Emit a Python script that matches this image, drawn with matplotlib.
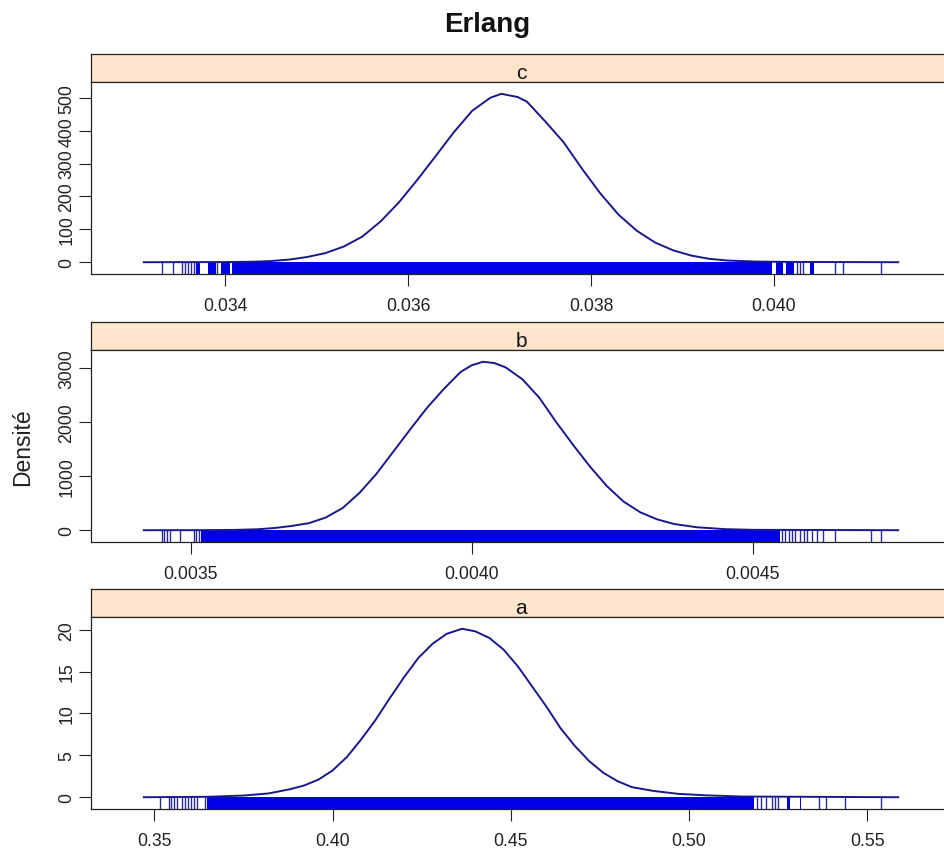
# -*- coding: utf-8 -*-
'''
Densitats a posteriori del model Erlang (paràmetres a, b i c),
una finestra per paràmetre amb el rug de les mostres a sota.
'''

import matplotlib
matplotlib.use('Agg')
import matplotlib.pyplot as plt

plt.rcParams['font.family'] = ['Liberation Sans', 'DejaVu Sans']

# paràmetre c: corba de densitat
c_x = [0.03311, 0.0340, 0.0343, 0.0345, 0.0347, 0.0349, 0.0351, 0.0353, 0.0355, 0.0357,
       0.0359, 0.0361, 0.0363, 0.0365, 0.0367, 0.0369, 0.03702, 0.0372, 0.0373, 0.0375,
       0.0377, 0.0379, 0.0381, 0.0383, 0.0385, 0.0387, 0.0389, 0.0391, 0.0393, 0.0395,
       0.0398, 0.0402, 0.04136]
c_y = [0, 0.5, 1.5, 3.5, 8, 16, 28, 48, 78, 124,
       182, 250, 322, 395, 460, 500, 512, 502, 488, 428,
       365, 285, 210, 145, 96, 60, 36, 20, 10, 5,
       2, 0.8, 0]
# rug de c: trams densos (inici, fi) i mostres soltes
c_rug_ini = [0.033680, 0.033808, 0.033953, 0.034070, 0.040020, 0.040128, 0.040400]
c_rug_fi = [0.033723, 0.033898, 0.034055, 0.039982, 0.040100, 0.040226, 0.040444]
c_rug = [0.033308, 0.033425, 0.033527, 0.033563, 0.033596, 0.033625, 0.033655, 0.033909,
         0.040248, 0.040284, 0.040317, 0.040667, 0.040758, 0.041177]
c_xticks = [0.034, 0.036, 0.038, 0.040]
c_xlabels = ['0.034', '0.036', '0.038', '0.040']
c_yticks = [0, 100, 200, 300, 400, 500]

# paràmetre b
b_x = [0.003416, 0.00352, 0.00358, 0.00362, 0.00365, 0.00368, 0.00371, 0.00374, 0.00377,
       0.00380, 0.00383, 0.00386, 0.00389, 0.00392, 0.00395, 0.00398, 0.00400, 0.00402,
       0.00404, 0.00406, 0.00409, 0.00412, 0.00415, 0.00418, 0.00421, 0.00424, 0.00427,
       0.00430, 0.00433, 0.00436, 0.00440, 0.00445, 0.00450, 0.004759]
b_y = [0, 1, 6, 18, 42, 80, 130, 235, 410,
       690, 1040, 1450, 1860, 2260, 2610, 2925, 3050, 3113,
       3090, 3010, 2790, 2450, 2000, 1580, 1180, 820, 530,
       330, 200, 115, 55, 20, 7, 0]
b_rug_ini = [0.003517]
b_rug_fi = [0.004549]
b_rug = [0.003448, 0.003452, 0.003457, 0.003463, 0.003480, 0.003505, 0.003509, 0.003514,
         0.004552, 0.004558, 0.004564, 0.004570, 0.004576, 0.004585, 0.004591, 0.004597,
         0.004606, 0.004615, 0.004626, 0.004646, 0.004711, 0.004729]
b_xticks = [0.0035, 0.0040, 0.0045]
b_xlabels = ['0.0035', '0.0040', '0.0045']
b_yticks = [0, 1000, 2000, 3000]

# paràmetre a
a_x = [0.347, 0.365, 0.375, 0.382, 0.388, 0.392, 0.396, 0.400, 0.404, 0.408, 0.412, 0.416,
       0.420, 0.424, 0.428, 0.432, 0.4363, 0.440, 0.444, 0.448, 0.452, 0.456, 0.460, 0.464,
       0.468, 0.472, 0.476, 0.480, 0.484, 0.490, 0.497, 0.505, 0.515, 0.5587]
a_y = [0, 0.05, 0.2, 0.45, 0.95, 1.4, 2.1, 3.2, 4.8, 6.9, 9.2, 11.8,
       14.3, 16.6, 18.3, 19.5, 20.1, 19.8, 19.0, 17.6, 15.6, 13.2, 10.8, 8.2,
       6.1, 4.3, 2.9, 1.9, 1.2, 0.75, 0.4, 0.22, 0.08, 0]
a_rug_ini = [0.36479, 0.52740, 0.53108]
a_rug_fi = [0.51818, 0.52820, 0.53156]
a_rug = [0.35168, 0.35401, 0.35469, 0.35542, 0.35637, 0.35777, 0.35842, 0.35934, 0.36030,
         0.36103, 0.36198, 0.36431, 0.51913, 0.52025, 0.52174, 0.52334, 0.52399, 0.52491,
         0.53661, 0.53850, 0.54371, 0.55401]
a_xticks = [0.35, 0.40, 0.45, 0.50, 0.55]
a_xlabels = ['0.35', '0.40', '0.45', '0.50', '0.55']
a_yticks = [0, 5, 10, 15, 20]

W, H = 944, 854
fig = plt.figure(figsize=(W / 100, H / 100), dpi=100)

def caixa(x0, y0, x1, y1):
	# rectangle en píxels, amb l'origen a dalt a l'esquerra
	return fig.add_axes([x0 / W, 1 - y1 / H, (x1 - x0) / W, (y1 - y0) / H])

vora = '#222222'
panells = [
	('c', c_x, c_y, c_rug_ini, c_rug_fi, c_rug, c_xticks, c_xlabels, c_yticks, 55),
	('b', b_x, b_y, b_rug_ini, b_rug_fi, b_rug, b_xticks, b_xlabels, b_yticks, 323),
	('a', a_x, a_y, a_rug_ini, a_rug_fi, a_rug, a_xticks, a_xlabels, a_yticks, 590),
]

for nom, xs, ys, ini, fi, rug, xt, xtl, yt, dalt in panells:
	# franja amb el nom del paràmetre
	strip = caixa(91, dalt, 951, dalt + 28)
	strip.set_facecolor('#ffe5cc')
	strip.set_xticks([])
	strip.set_yticks([])
	for s in strip.spines.values():
		s.set_color(vora)
		s.set_linewidth(0.9)
	strip.text(0.5, 0.14, nom, ha='center', va='baseline', fontsize=15,
	           color='#111111', transform=strip.transAxes)

	ax = caixa(91, dalt + 28, 951, dalt + 220)
	ymax = max(ys)
	y0 = -0.07 * ymax
	marge = 0.07 * (max(xs) - min(xs))

	# rug: trams plens i mostres soltes
	for p, q in zip(ini, fi):
		ax.fill_between([p, q], y0, 0, color='#0000e6', lw=0)
	ax.vlines(rug, y0, 0, color='#2a2aa0', lw=1)
	ax.plot(xs, ys, color='#18188c', lw=1.4)

	ax.set_xlim(min(xs) - marge, max(xs) + marge)
	ax.set_ylim(y0, ymax * 1.07)
	ax.set_xticks(xt)
	ax.set_xticklabels(xtl)
	ax.set_yticks(yt)
	ax.set_yticklabels([str(v) for v in yt], rotation=90, va='center')
	ax.tick_params(direction='out', length=8.4, width=0.8, labelsize=12.7,
	               colors=vora, top=False, right=False)
	ax.tick_params(axis='x', pad=8)
	ax.tick_params(axis='y', pad=3)
	for s in ax.spines.values():
		s.set_color(vora)
		s.set_linewidth(0.9)

fig.text(487 / W, 1 - 25 / H, 'Erlang', ha='center', va='center',
         fontsize=20, fontweight='bold', color='#111111')
fig.text(23 / W, 1 - 447 / H, 'Densité', rotation=90, ha='center', va='center',
         fontsize=16.5, color='#222222')

plt.savefig('out.png', dpi=100)
